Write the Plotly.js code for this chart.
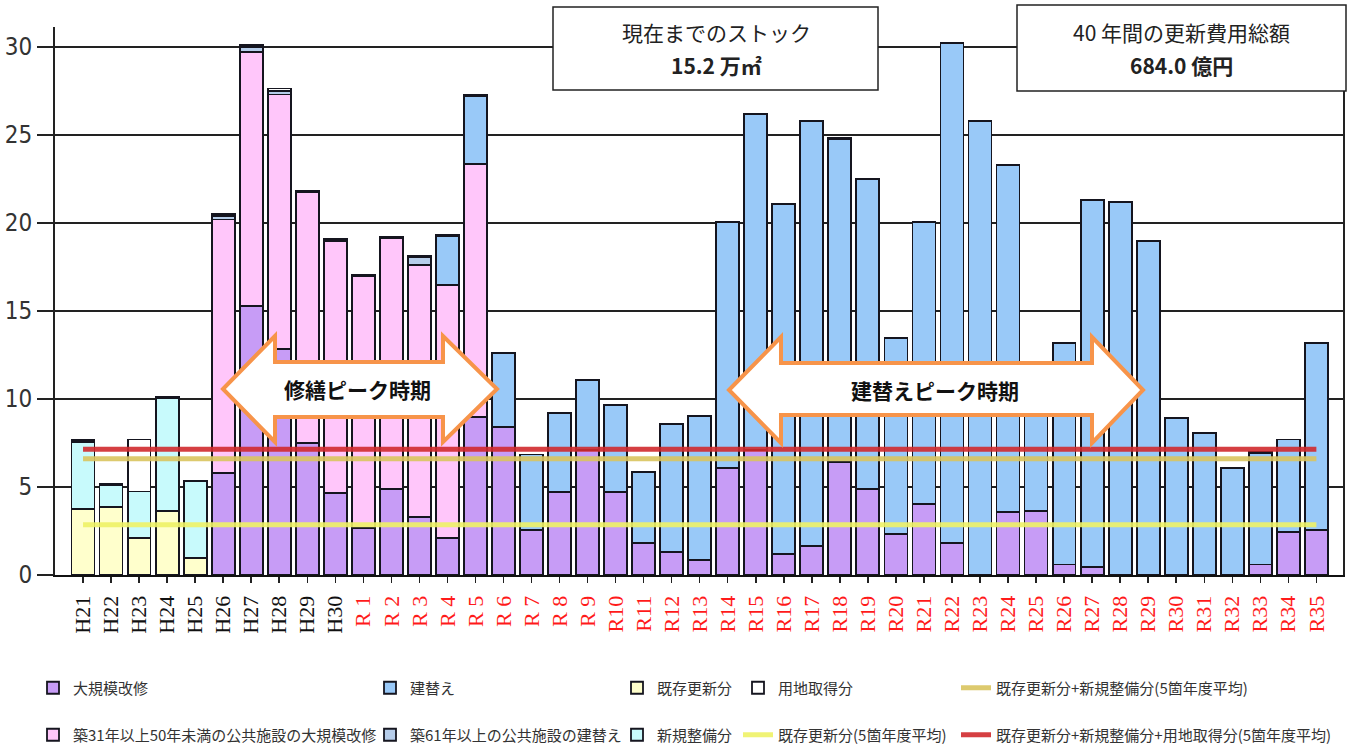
<!DOCTYPE html>
<html>
<head>
<meta charset="utf-8">
<script src="https://cdn.plot.ly/plotly-3.0.1.min.js"></script>
<style>
html,body{margin:0;padding:0;background:#fff;}
#chart{width:1352px;height:754px;}
</style>
</head>
<body>
<div id="chart"></div>
<script>
// ---------- data ----------
const categories = ['H21','H22','H23','H24','H25','H26','H27','H28','H29','H30',
  'R 1','R 2','R 3','R 4','R 5','R 6','R 7','R 8','R 9','R10',
  'R11','R12','R13','R14','R15','R16','R17','R18','R19','R20',
  'R21','R22','R23','R24','R25','R26','R27','R28','R29','R30',
  'R31','R32','R33','R34','R35'];

// 既存更新分
const kizonKoshin = [3.75,3.87,2.10,3.65,0.97, 0,0,0,0,0, 0,0,0,0,0, 0,0,0,0,0,
  0,0,0,0,0, 0,0,0,0,0, 0,0,0,0,0, 0,0,0,0,0, 0,0,0,0,0];
// 新規整備分
const shinkiSeibi = [3.82,1.23,2.65,6.40,4.38, 0,0,0,0,0, 0,0,0,0,0, 0,0,0,0,0,
  0,0,0,0,0, 0,0,0,0,0, 0,0,0,0,0, 0,0,0,0,0, 0,0,0,0,0];
// 大規模改修
const daikiboKaishu = [0,0,0,0,0, 5.80,15.30,12.85,7.50,4.65,
  2.65,4.90,3.30,2.10,9.00, 8.40,2.55,4.70,7.10,4.70,
  1.80,1.30,0.85,6.10,7.10, 1.20,1.65,6.40,4.90,2.35,
  4.05,1.80,0,3.60,3.65, 0.60,0.45,0,0,0, 0,0,0.60,2.45,2.55];
// 築31年以上50年未満の公共施設の大規模改修
const chiku31Kaishu = [0,0,0,0,0, 14.40,14.40,14.45,14.25,14.35,
  14.35,14.25,14.30,14.40,14.35, 0,0,0,0,0,
  0,0,0,0,0, 0,0,0,0,0, 0,0,0,0,0, 0,0,0,0,0, 0,0,0,0,0];
// 建替え
const tatekae = [0,0,0,0,0, 0,0,0,0,0, 0,0,0,2.75,3.85,
  4.20,4.30,4.50,4.00,4.95, 4.05,7.30,8.20,13.95,19.10,
  19.90,24.15,18.35,17.60,11.10, 16.00,28.45,25.80,19.70,7.35,
  12.60,20.85,21.20,19.00,8.90, 8.05,6.10,6.30,5.25,10.65];
// 築61年以上の公共施設の建替え
const chiku61Tatekae = [0,0,0,0,0, 0.22,0.30,0.22,0,0, 0,0,0.45,0,0,
  0,0,0,0,0, 0,0,0,0,0, 0,0,0,0,0, 0,0,0,0,0, 0,0,0,0,0, 0,0,0,0,0];
// 用地取得分
const yochiShutoku = [0.10,0.10,2.95,0.06,0, 0.10,0.12,0.12,0.10,0.08,
  0.08,0.08,0.10,0.10,0.08, 0,0,0,0,0, 0,0,0,0,0, 0,0,0.08,0,0,
  0,0,0,0,0, 0,0,0,0,0, 0,0,0.08,0,0];

// 5箇年度平均 lines
const avgX = ['H21','R35'];
const avgKizon = [2.85, 2.85];             // 既存更新分(5箇年度平均)
const avgKizonShinki = [6.60, 6.60];       // 既存更新分+新規整備分(5箇年度平均)
const avgKizonShinkiYochi = [7.15, 7.15];  // 既存更新分+新規整備分+用地取得分(5箇年度平均)

const yTicks = [0,5,10,15,20,25,30];

const stockTitle = '現在までのストック';
const stockValue = '15.2 万㎡';
const costTitle = '40 年間の更新費用総額';
const costValue = '684.0 億円';
const peakRepair = '修繕ピーク時期';
const peakRebuild = '建替えピーク時期';

// ---------- geometry helpers ----------
const W = 1352, H = 754;
const M = {l:55, r:9, t:27, b:179, autoexpand:false};
const PW = W - M.l - M.r, PH = H - M.t - M.b;
const px = x => (x - M.l) / PW;
const py = y => (H - M.b - y) / PH;

const JP = '"Noto Sans CJK JP", "Noto Sans", sans-serif';
const EDGE = '#15151f';

const tickText = categories.map(c => c.startsWith('R')
  ? '<span style="color:#ff1a1a">' + c + '</span>' : c);

function leg(xp, yp) {
  return {xref:'container', yref:'container', x: xp / W, y: 1 - yp / H,
    xanchor:'left', yanchor:'middle', orientation:'v',
    bgcolor:'rgba(0,0,0,0)', borderwidth:0,
    font:{family:JP, size:15, color:'#333'}};
}

const nz = arr => arr.map(v => v === 0 ? null : v);

function barTrace(name, vals, color, legendId) {
  return {type:'bar', name:name, x:categories, y:nz(vals),
    marker:{color:color, line:{color:EDGE, width:1.8}},
    legend:legendId, hoverinfo:'x+y+name'};
}
function lineTrace(name, yv, color, legendId) {
  return {type:'scatter', mode:'lines', name:name, x:avgX, y:yv,
    line:{color:color, width:5}, opacity:0.9, legend:legendId};
}

const traces = [
  barTrace('既存更新分', kizonKoshin, '#FFFFCC', 'legend5'),
  barTrace('新規整備分', shinkiSeibi, '#C8FAFC', 'legend6'),
  barTrace('大規模改修', daikiboKaishu, '#C79CF6', 'legend'),
  barTrace('築31年以上50年未満の公共施設の大規模改修', chiku31Kaishu, '#FFC6FA', 'legend2'),
  barTrace('建替え', tatekae, '#99C9F8', 'legend3'),
  barTrace('築61年以上の公共施設の建替え', chiku61Tatekae, '#B6CDEA', 'legend4'),
  barTrace('用地取得分', yochiShutoku, '#FFFFFF', 'legend7'),
  lineTrace('既存更新分(5箇年度平均)', avgKizon, '#EEF266', 'legend8'),
  lineTrace('既存更新分+新規整備分(5箇年度平均)', avgKizonShinki, '#D9C45E', 'legend9'),
  lineTrace('既存更新分+新規整備分+用地取得分(5箇年度平均)', avgKizonShinkiYochi, '#D02A2E', 'legend10')
];

function arrowPath(xl, xhl, xhr, xr, yc, yht, yst, ysb, yhb) {
  const P = (x, y) => px(x).toFixed(5) + ',' + py(y).toFixed(5);
  return 'M' + P(xl, yc) + ' L' + P(xhl, yht) + ' L' + P(xhl, yst) + ' L' + P(xhr, yst) +
    ' L' + P(xhr, yht) + ' L' + P(xr, yc) + ' L' + P(xhr, yhb) + ' L' + P(xhr, ysb) +
    ' L' + P(xhl, ysb) + ' L' + P(xhl, yhb) + ' Z';
}

const shapes = [
  {type:'rect', xref:'paper', yref:'paper', x0:px(553), x1:px(878), y0:py(90), y1:py(7),
   fillcolor:'#fff', line:{color:'#222', width:1.5}, layer:'above'},
  {type:'rect', xref:'paper', yref:'paper', x0:px(1017), x1:px(1346), y0:py(91), y1:py(5),
   fillcolor:'#fff', line:{color:'#222', width:1.5}, layer:'above'},
  {type:'path', xref:'paper', yref:'paper',
   path:arrowPath(223, 275, 443, 497, 389, 336, 362, 417, 442),
   fillcolor:'#fff', line:{color:'#F7944A', width:4}, layer:'above'},
  {type:'path', xref:'paper', yref:'paper',
   path:arrowPath(729, 781, 1092, 1143, 390, 337, 363, 415, 443),
   fillcolor:'#fff', line:{color:'#F7944A', width:4}, layer:'above'}
];

function boxText(x, y, text, size, bold) {
  return {xref:'paper', yref:'paper', x:px(x), y:py(y), xanchor:'center', yanchor:'middle',
    text: bold ? '<b>' + text + '</b>' : text, showarrow:false,
    font:{family:JP, size:size, color:'#222'}};
}

const annotations = [
  boxText(716, 32, stockTitle, 21, false),
  boxText(716, 65, stockValue, 21, true),
  boxText(1181, 32, costTitle, 21, false),
  boxText(1181, 65, costValue, 21, true),
  {xref:'paper', yref:'paper', x:px(357), y:py(389), xanchor:'center', yanchor:'middle',
   text:'<b>' + peakRepair + '</b>', showarrow:false,
   font:{family:JP, size:21, color:'#111'}},
  {xref:'paper', yref:'paper', x:px(935), y:py(390), xanchor:'center', yanchor:'middle',
   text:'<b>' + peakRebuild + '</b>', showarrow:false,
   font:{family:JP, size:21, color:'#111'}}
];

const colX = [33, 370, 617, 738, 956];
const rowY = [688, 735];

const layout = {
  width:W, height:H, margin:M,
  paper_bgcolor:'#fff', plot_bgcolor:'#fff',
  barmode:'stack', bargap:0.18,
  showlegend:true,
  xaxis:{type:'category', range:[-1, 44.95], tickvals:categories, ticktext:tickText,
    tickangle:-90, ticks:'outside', ticklen:6, tickwidth:1.5, tickcolor:'#222',
    showline:true, linecolor:'#111', linewidth:2, showgrid:false, automargin:false,
    ticklabelstandoff:4,
    tickfont:{family:'"Liberation Serif", "DejaVu Serif", serif', size:22, color:'#111'}},
  yaxis:{range:[0, 31.14], tickvals:yTicks, ticks:'outside', ticklen:16, tickwidth:2,
    tickcolor:'#222', showline:true, mirror:true, linecolor:'#222', linewidth:2,
    showgrid:true, gridcolor:'#222', gridwidth:1.8, zeroline:false, automargin:false,
    tickfont:{family:'"Liberation Sans Narrow", "DejaVu Sans Condensed", "Liberation Sans", sans-serif', size:24, color:'#333'}},
  legend: leg(colX[0], rowY[0]),
  legend2: leg(colX[0], rowY[1]),
  legend3: leg(colX[1], rowY[0]),
  legend4: leg(colX[1], rowY[1]),
  legend5: leg(colX[2], rowY[0]),
  legend6: leg(colX[2], rowY[1]),
  legend7: leg(colX[3], rowY[0]),
  legend8: leg(colX[3], rowY[1]),
  legend9: leg(colX[4], rowY[0]),
  legend10: leg(colX[4], rowY[1]),
  shapes:shapes,
  annotations:annotations
};

Plotly.newPlot('chart', traces, layout, {displayModeBar:false, staticPlot:true});
</script>
</body>
</html>
